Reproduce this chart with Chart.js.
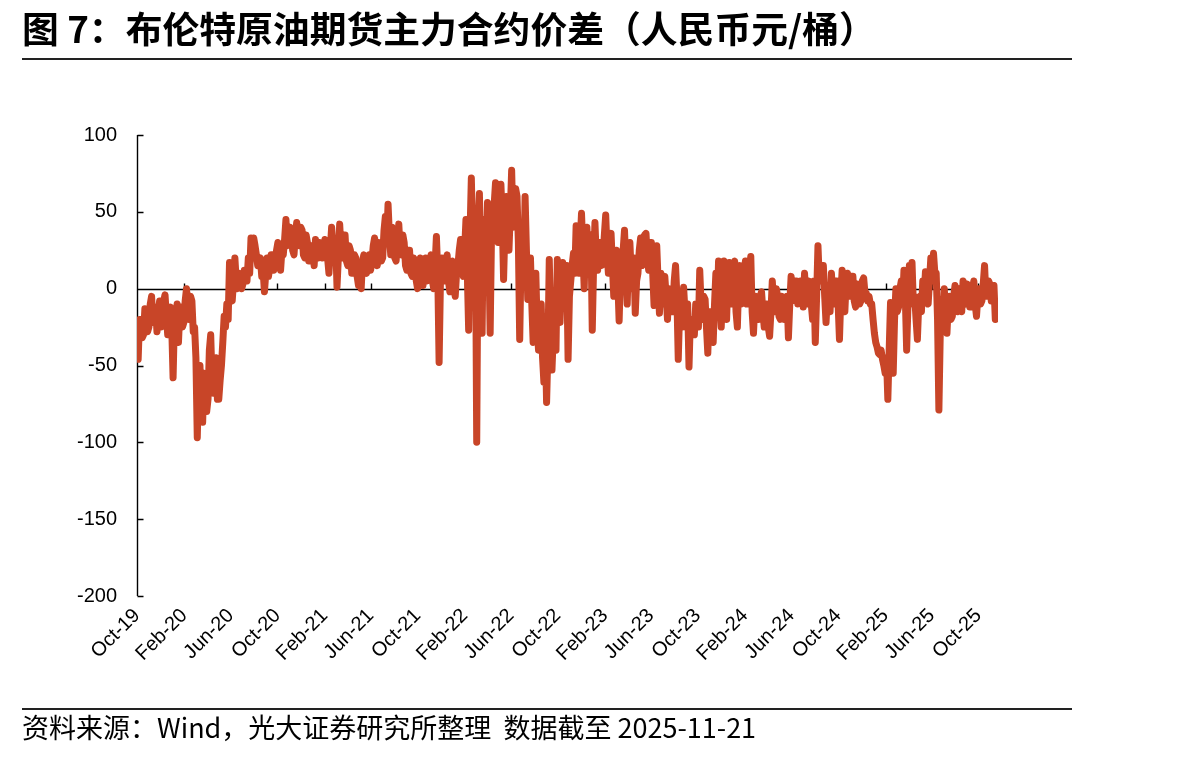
<!DOCTYPE html>
<html>
<head>
<meta charset="utf-8">
<script src="https://cdn.jsdelivr.net/npm/chart.js@4.4.1/dist/chart.umd.min.js"></script>
<style>
html,body{margin:0;padding:0;background:#fff;}
#wrap{position:relative;width:1204px;height:757px;overflow:hidden;background:#fff;}
#c{position:absolute;left:0;top:0;}
.title{position:absolute;left:22px;top:5px;font-family:"Noto Sans CJK SC",sans-serif;font-weight:700;font-size:36.8px;line-height:44px;color:#000;white-space:nowrap;}
.rule{position:absolute;left:22px;width:1050px;height:2px;background:#222;}
.src{position:absolute;left:22px;top:708px;font-family:"Noto Sans CJK SC",sans-serif;font-weight:400;font-size:27px;line-height:38px;color:#000;white-space:nowrap;}
</style>
</head>
<body>
<div id="wrap">
<canvas id="c" width="1204" height="757"></canvas>
<div class="title">图 7：布伦特原油期货主力合约价差（人民币元/桶）</div>
<div class="rule" style="top:58px"></div>
<div class="rule" style="top:708px"></div>
<div class="src">资料来源：Wind，光大证券研究所整理&nbsp;&nbsp;数据截至 2025-11-21</div>
</div>
<script>
// x-axis tick labels (every 4 months)
const tickLabels = ['Oct-19','Feb-20','Jun-20','Oct-20','Feb-21','Jun-21','Oct-21','Feb-22','Jun-22','Oct-22','Feb-23','Jun-23','Oct-23','Feb-24','Jun-24','Oct-24','Feb-25','Jun-25','Oct-25'];
// y-axis range
const yMin = -200, yMax = 100, yStep = 50;
// series: twice-weekly readings (every 3.5 days) starting 2019-10-04
const firstDate = '2019-10-04';
const lastDate = '2025-11-21';
const stepDays = 3.5;
const spreadA = [-46,-20,-20,-32,-30,-13,-14,-28,-25,-10,-5,-22,-18,-12,-28,-15,-8,-25,-20,-8,
  -4,-18,-30,-15,-12,-25,-58,-20,-18,-10,-35,-15,-12,-25,-22,-8,0,-15,-20,-5,
  -8,-28,-25,-45,-97,-60,-50,-75,-87,-55,-60,-80,-72,-40,-30,-60,-68,-50,-45,-72,
  -72,-60,-50,-35,-18,-25,-10,-20,17,-5,-8,5,20,5,0,10,8,0,3,12,
  12,5,20,10,33,25,33,28,22,15,18,20,8,12,-2,10,20,8,14,22,
  22,12,16,25,30,18,12,25,22,32,45,28,30,40,38,25,22,35,43,30];
const spreadB = [28,40,38,22,20,35,30,18,18,28,25,15,32,22,20,30,28,20,26,32,
  30,20,10,25,40,28,18,32,1,20,42,25,20,35,35,18,15,28,25,10,
  10,22,20,8,2,15,0,18,22,12,10,20,22,12,18,28,33,20,15,30,
  28,18,20,38,47,30,55,35,22,40,35,20,18,30,42,25,22,35,30,15,
  12,25,25,10,8,20,18,5,0,15,20,8,2,15,20,5,8,18,22,5,
  0,15,34,10,-48,5,20,10,5,18,22,5,-2,15,18,2,-5,10,15,25];
const spreadC = [32,15,8,25,45,10,-27,35,72,30,20,50,-100,40,62,10,-29,45,40,20,
  56,25,-29,35,40,55,69,40,30,55,68,45,6,40,60,35,25,50,77,40,
  45,65,60,30,-33,20,35,10,60,25,-7,20,20,-10,-35,-15,10,-25,-40,-20,
  -10,-45,-61,-30,-74,-40,19,-20,-53,-30,-10,-40,19,-5,-22,5,17,-10,0,15,
  -46,-5,5,15,23,10,41,20,10,30,49,25,0,35,40,20,15,35,-27,15,
  43,20,12,30,30,15,20,35,48,25,10,30,36,15,-5,20,25,5,-21,10];
const spreadD = [5,25,38,15,-10,20,30,10,0,20,-16,5,10,25,33,15,20,35,36,20,
  12,30,30,10,-11,15,28,5,-16,10,0,-10,8,-5,-20,0,-5,-15,-15,5,
  15,-5,-46,-15,-10,-25,1,-15,-25,-10,-51,-20,-20,-30,-30,-10,-15,-25,12,-10,
  -20,-5,-7,-25,-42,-15,-15,-30,-35,-10,10,-15,18,-5,-25,5,18,-10,-20,10,
  17,-5,-10,15,18,-15,-25,5,15,-10,-8,10,18,-10,-5,10,21,-15,-29,-10,
  -5,-20,-20,-5,-2,-15,-25,-10,-10,-25,-31,-15,5,-10,-15,0,-5,-18,-20,-5];
const spreadE = [-8,-20,-15,-5,-32,-10,8,-8,-5,5,5,-10,-7,5,0,-12,10,-5,-10,5,
  0,-10,-20,5,-35,-5,28,5,5,15,15,-5,-22,-5,0,-15,10,-5,-10,5,
  5,-10,-33,-5,12,-5,-15,5,10,-5,-5,8,8,-8,-12,3,2,-10,-8,5,
  7,-3,-3,-8,-5,-10,-10,-20,-29,-35,-38,-42,-43,-40,-46,-50,-55,-45,-72,-40,
  -9,-30,-55,-20,0,-15,-12,0,5,-10,12,-5,-40,-10,15,0,17,-10,-5,-20,
  -33,-10,-5,-15,5,-5,11,-5,-10,5,20,5,23,10,10,-20,-79,-30,-7,-20];
const spreadF = [0,-15,-29,-10,-5,-20,-18,-5,2,-10,-15,0,-5,-15,5,-8,-10,3,0,-12,
  -12,0,5,-10,-18,-5,0,-10,-8,3,15,-5,-5,5,3,-8,-5,2,-20];

const spread = [].concat(spreadA, spreadB, spreadC, spreadD, spreadE, spreadF);

const months = {Jan:0,Feb:1,Mar:2,Apr:3,May:4,Jun:5,Jul:6,Aug:7,Sep:8,Oct:9,Nov:10,Dec:11};
const origin = Date.UTC(2019, 9, 1);
const dayOfUTC = t => (t - origin) / 864e5;
const parseISO = s => { const [y,m,d] = s.split('-').map(Number); return Date.UTC(y, m-1, d); };
const tickDays = tickLabels.map(l => { const [mo, yy] = l.split('-'); return dayOfUTC(Date.UTC(2000 + Number(yy), months[mo], 1)); });
const startDay = dayOfUTC(parseISO(firstDate));
const points = spread.map((v, i) => ({ x: startDay + i * stepDays, y: v }));

const axesPlugin = {
  id: 'axesDraw',
  beforeDatasetsDraw(chart) {
    const { ctx, chartArea: a, scales: { x, y } } = chart;
    ctx.save();
    ctx.strokeStyle = '#000';
    ctx.lineWidth = 1.4;
    ctx.beginPath();
    const xl = Math.round(a.left) + 0.5;
    ctx.moveTo(xl, y.getPixelForValue(yMax));
    ctx.lineTo(xl, y.getPixelForValue(yMin));
    y.ticks.forEach(t => {
      const py = Math.round(y.getPixelForValue(t.value)) + 0.5;
      ctx.moveTo(xl, py); ctx.lineTo(xl + 6, py);
    });
    const y0 = Math.round(y.getPixelForValue(0)) + 0.5;
    ctx.moveTo(a.left, y0); ctx.lineTo(a.right - 3, y0);
    tickDays.forEach(d => {
      const px = Math.round(x.getPixelForValue(d)) + 0.5;
      ctx.moveTo(px, y0); ctx.lineTo(px, y0 - 6);
    });
    ctx.stroke();
    ctx.restore();
  }
};

new Chart(document.getElementById('c'), {
  type: 'line',
  data: {
    datasets: [{
      data: points,
      borderColor: '#C84528',
      backgroundColor: '#C84528',
      borderWidth: 7,
      pointRadius: 0,
      tension: 0,
      borderJoinStyle: 'round',
      borderCapStyle: 'round',
      fill: false
    }]
  },
  options: {
    responsive: false,
    devicePixelRatio: 1,
    animation: false,
    layout: { padding: { left: 0, top: 135, right: 206, bottom: 0 } },
    plugins: { legend: { display: false }, tooltip: { enabled: false }, title: { display: false } },
    scales: {
      x: {
        type: 'linear',
        min: 0,
        max: dayOfUTC(parseISO(lastDate)),
        afterBuildTicks: s => { s.ticks = tickDays.map(v => ({ value: v })); },
        afterFit: s => { s.height = 161; },
        grid: { display: false, drawTicks: false },
        border: { display: false },
        ticks: {
          autoSkip: false,
          maxRotation: 45,
          minRotation: 45,
          padding: 8,
          color: '#000',
          font: { family: 'Liberation Sans, Arial, sans-serif', size: 20 },
          callback: (v, i) => tickLabels[i]
        }
      },
      y: {
        min: yMin,
        max: yMax,
        afterFit: s => { s.width = 137; },
        grid: { display: false, drawTicks: false },
        border: { display: false },
        ticks: {
          stepSize: yStep,
          padding: 20,
          color: '#000',
          font: { family: 'Liberation Sans, Arial, sans-serif', size: 20 }
        }
      }
    }
  },
  plugins: [axesPlugin]
});
</script>
</body>
</html>
